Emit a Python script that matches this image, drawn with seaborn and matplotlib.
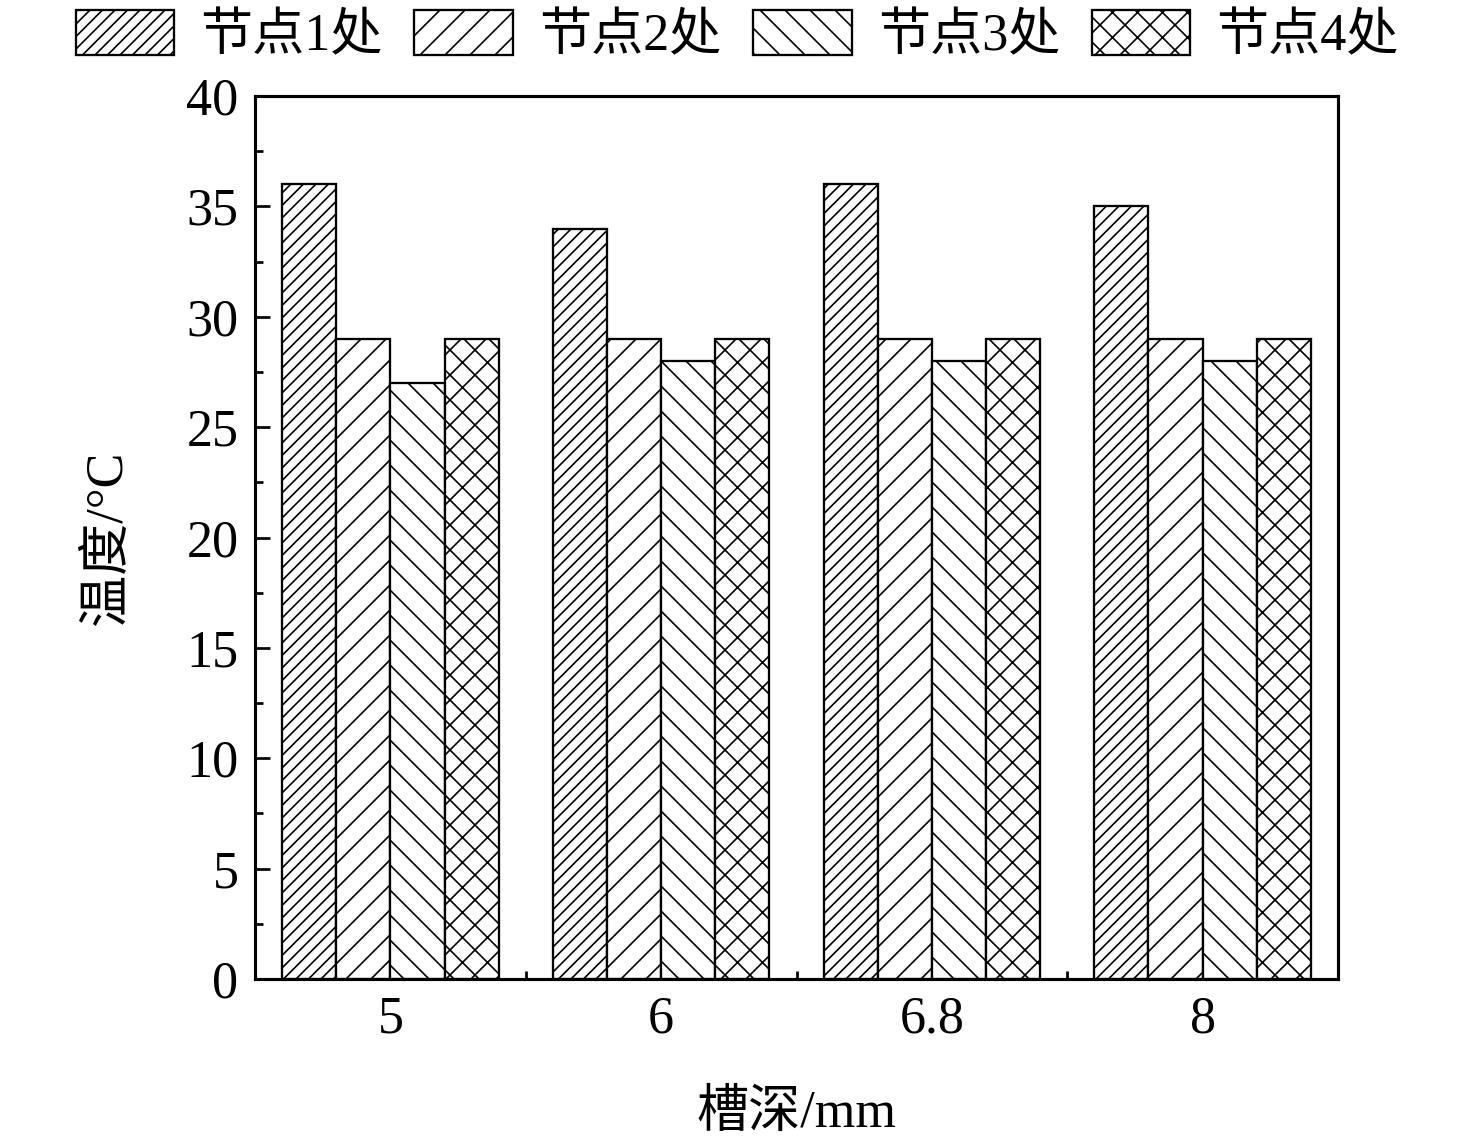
import pandas as pd
import matplotlib
matplotlib.use('Agg')
import matplotlib.pyplot as plt
import seaborn as sns

# 槽深 categories and temperatures at each node
depths = ['5', '6', '6.8', '8']
nodes = ['节点1处', '节点2处', '节点3处', '节点4处']
node1 = [36, 34, 36, 35]
node2 = [29, 29, 29, 29]
node3 = [27, 28, 28, 28]
node4 = [29, 29, 29, 29]
hatches = ['////', '//', '\\\\', 'xx']

rows = []
for name, vals in zip(nodes, [node1, node2, node3, node4]):
    for d, v in zip(depths, vals):
        rows.append({'depth': d, 'temp': v, 'node': name})
df = pd.DataFrame(rows)

sns.set_style('white')
plt.rcParams['font.family'] = ['Liberation Serif', 'Noto Sans CJK SC']
plt.rcParams['hatch.linewidth'] = 0.8
plt.rcParams['text.color'] = 'black'
plt.rcParams['axes.labelcolor'] = 'black'
plt.rcParams['xtick.color'] = 'black'
plt.rcParams['ytick.color'] = 'black'

fig = plt.figure(figsize=(9.84, 7.6267), dpi=150)
ax = fig.add_axes([0.1728, 0.1442, 0.7337, 0.7718])

sns.barplot(data=df, x='depth', y='temp', hue='node', hue_order=nodes,
            order=depths, width=0.8, legend=False, ax=ax)

for cont, h in zip(ax.containers, hatches):
    for p in cont.patches:
        p.set_facecolor('white')
        p.set_edgecolor('black')
        p.set_linewidth(1.1)
        p.set_hatch(h)

ax.set_ylim(0, 40)
ax.set_yticks(range(0, 41, 5))
ax.set_yticks([i + 2.5 for i in range(0, 40, 5)], minor=True)
ax.set_xlim(-0.5, 3.5)
ax.set_xticks([0.5, 1.5, 2.5], minor=True)

ax.tick_params(axis='both', which='major', direction='in', length=7, width=1.3,
               labelsize=25, pad=8, colors='black')
ax.tick_params(axis='both', which='minor', direction='in', length=4, width=1.3,
               colors='black')
ax.tick_params(axis='y', which='both', left=True, right=False)
ax.tick_params(axis='x', which='both', bottom=True, top=False)

for s in ax.spines.values():
    s.set_visible(True)
    s.set_color('black')
    s.set_linewidth(1.5)

ax.set_xlabel('槽深/mm', fontsize=25, labelpad=22)
ax.set_ylabel('温度/°C', fontsize=25, labelpad=26)

fig.legend(ax.containers, nodes, loc='center', bbox_to_anchor=(0.4995, 0.969),
           ncol=4, frameon=False, fontsize=25, handlelength=1.9,
           handleheight=0.95, handletextpad=0.5, columnspacing=0.6,
           borderaxespad=0)

fig.savefig('out.png', dpi=150, facecolor='white')
